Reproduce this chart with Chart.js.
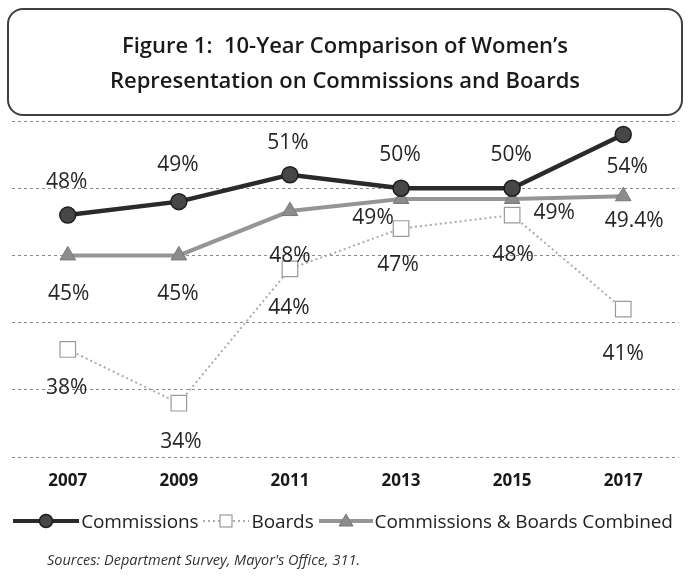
<!DOCTYPE html>
<html><head><meta charset="utf-8">
<script src="https://cdn.jsdelivr.net/npm/chart.js@4.4.1/dist/chart.umd.min.js"></script>
<style>
html,body{margin:0;padding:0;background:#fff;}
#wrap{position:relative;width:691px;height:577px;overflow:hidden;background:#fff;}
#c{position:absolute;left:0;top:0;}
#title{position:absolute;left:7px;top:8px;width:672px;height:104px;border:2px solid #3f3f3f;border-radius:16px;display:flex;align-items:center;justify-content:center;text-align:center;font-family:'Open Sans',sans-serif;font-weight:600;font-size:22px;line-height:35px;color:#1a1a1a;}
#legend{position:absolute;left:0;top:508px;width:691px;height:26px;display:flex;justify-content:center;align-items:center;font-family:'Open Sans',sans-serif;font-size:19px;color:#222;letter-spacing:-0.1px;}
#legend .it{display:flex;align-items:center;margin-right:5px;}
#legend canvas{margin-right:2px;}
#src{position:absolute;left:47px;top:550px;font-family:'Open Sans',sans-serif;font-style:italic;font-size:14.5px;color:#333;}
</style></head>
<body><div id="wrap"><canvas id="c" width="691" height="577"></canvas>
<div id="title">Figure 1:&nbsp; 10-Year Comparison of Women’s<br>Representation on Commissions and Boards</div>
<div id="legend"></div>
<div id="src">Sources: Department Survey, Mayor's Office, 311.</div></div>
<script>
// ---- data ----
const years = ['2007', '2009', '2011', '2013', '2015', '2017'];
const seriesNames = ['Commissions', 'Boards', 'Commissions & Boards Combined'];
const commissions = [48, 49, 51, 50, 50, 54];
const boards = [38, 34, 44, 47, 48, 41];
const combined = [45, 45, 48.3, 49.2, 49.2, 49.4];
const commissionsLabels = ['48%', '49%', '51%', '50%', '50%', '54%'];
const boardsLabels = ['38%', '34%', '44%', '47%', '48%', '41%'];
const combinedLabels = ['45%', '45%', '48%', '49%', '49%', '49.4%'];
const yMin = 30, yMax = 55, yStep = 5;

// ---- label placement (style, offsets from each point) ----
const commissionsOff = [[-1,-35],[-1,-38],[-2,-33],[-1,-35],[-1,-35],[4,31]];
const boardsOff = [[-1,37],[2,37],[-1,38],[-3,35],[1,38],[0,43]];
const combinedOff = [[1,37],[-1,37],[0,43],[-28,18],[42,13],[11,23]];

const styles = {
  commissions: {line:'#2a2a2a', fill:'#474747', border:'#1e1e1e'},
  boards: {line:'#ababab', fill:'#ffffff', border:'#9a9a9a'},
  combined: {line:'#959595', fill:'#8c8c8c', border:'#777777'}
};

const labelPlugin = {
  id: 'pointLabels',
  afterDatasetsDraw(chart) {
    const ctx = chart.ctx;
    ctx.save();
    ctx.font = "21px 'Open Sans', sans-serif";
    ctx.fillStyle = '#262626';
    ctx.textAlign = 'center';
    ctx.textBaseline = 'alphabetic';
    chart.data.datasets.forEach((ds, i) => {
      const meta = chart.getDatasetMeta(i);
      meta.data.forEach((pt, j) => {
        const [dx, dy] = ds.labelOffsets[j];
        ctx.fillText(ds.pointLabels[j], pt.x + dx, pt.y + dy + 7.5);
      });
    });
    ctx.restore();
  }
};

Chart.defaults.font.family = "'Open Sans', sans-serif";

new Chart(document.getElementById('c'), {
  type: 'line',
  data: {
    labels: years,
    datasets: [
      {
        label: seriesNames[0], data: commissions, order: 0,
        borderColor: styles.commissions.line, borderWidth: 4.5,
        pointStyle: 'circle', pointRadius: 8, pointBackgroundColor: styles.commissions.fill,
        pointBorderColor: styles.commissions.border, pointBorderWidth: 1.5,
        pointLabels: commissionsLabels, labelOffsets: commissionsOff, tension: 0
      },
      {
        label: seriesNames[1], data: boards, order: 2,
        borderColor: styles.boards.line, borderWidth: 2, borderDash: [2, 3],
        pointStyle: 'rect', pointRadius: 11, pointBackgroundColor: styles.boards.fill,
        pointBorderColor: styles.boards.border, pointBorderWidth: 1.2,
        pointLabels: boardsLabels, labelOffsets: boardsOff, tension: 0
      },
      {
        label: seriesNames[2], data: combined, order: 1,
        borderColor: styles.combined.line, borderWidth: 4,
        pointStyle: 'triangle', pointRadius: 9, pointBackgroundColor: styles.combined.fill,
        pointBorderColor: styles.combined.border, pointBorderWidth: 1,
        pointLabels: combinedLabels, labelOffsets: combinedOff, tension: 0
      }
    ]
  },
  options: {
    responsive: false,
    animation: false,
    clip: false,
    layout: { padding: { left: 12, right: 7, top: 121, bottom: 80 } },
    plugins: { legend: { display: false }, tooltip: { enabled: false }, title: { display: false } },
    scales: {
      x: {
        offset: true,
        grid: { display: false, drawTicks: false },
        border: { display: false },
        ticks: { color: '#1a1a1a', font: { size: 17, weight: 'bold' }, padding: 14 },
        afterFit: s => { s.height = 40; }
      },
      y: {
        min: yMin, max: yMax,
        ticks: { display: false, stepSize: yStep },
        grid: { color: '#8a8a8a', lineWidth: 1, drawTicks: false },
        border: { display: false, dash: [3, 3] },
        afterFit: s => { s.width = 0; }
      }
    }
  },
  plugins: [labelPlugin]
});

// ---- legend swatches ----
function swatch(kind, w) {
  const c = document.createElement('canvas');
  c.width = w; c.height = 22;
  const g = c.getContext('2d');
  const y = 11, cx = w / 2;
  if (kind === 0) {
    g.strokeStyle = styles.commissions.line; g.lineWidth = 4;
    g.beginPath(); g.moveTo(0, y); g.lineTo(w, y); g.stroke();
    g.fillStyle = styles.commissions.fill; g.strokeStyle = styles.commissions.border; g.lineWidth = 1.5;
    g.beginPath(); g.arc(cx, y, 6.5, 0, Math.PI * 2); g.fill(); g.stroke();
  } else if (kind === 1) {
    g.strokeStyle = styles.boards.line; g.lineWidth = 2; g.setLineDash([2, 3]);
    g.beginPath(); g.moveTo(0, y); g.lineTo(w, y); g.stroke();
    g.setLineDash([]);
    g.fillStyle = '#fff'; g.strokeStyle = styles.boards.border; g.lineWidth = 1.2;
    g.fillRect(cx - 6, y - 6, 12, 12); g.strokeRect(cx - 6, y - 6, 12, 12);
  } else {
    g.strokeStyle = styles.combined.line; g.lineWidth = 4;
    g.beginPath(); g.moveTo(0, y); g.lineTo(w, y); g.stroke();
    g.fillStyle = styles.combined.fill; g.strokeStyle = styles.combined.border; g.lineWidth = 1;
    g.beginPath(); g.moveTo(cx, y - 7); g.lineTo(cx + 7, y + 5); g.lineTo(cx - 7, y + 5); g.closePath(); g.fill(); g.stroke();
  }
  return c;
}
const lg = document.getElementById('legend');
const swW = [66, 46, 54];
seriesNames.forEach((n, i) => {
  const it = document.createElement('div'); it.className = 'it';
  it.appendChild(swatch(i, swW[i]));
  const sp = document.createElement('span'); sp.textContent = n;
  it.appendChild(sp); lg.appendChild(it);
});
</script>
</body></html>
